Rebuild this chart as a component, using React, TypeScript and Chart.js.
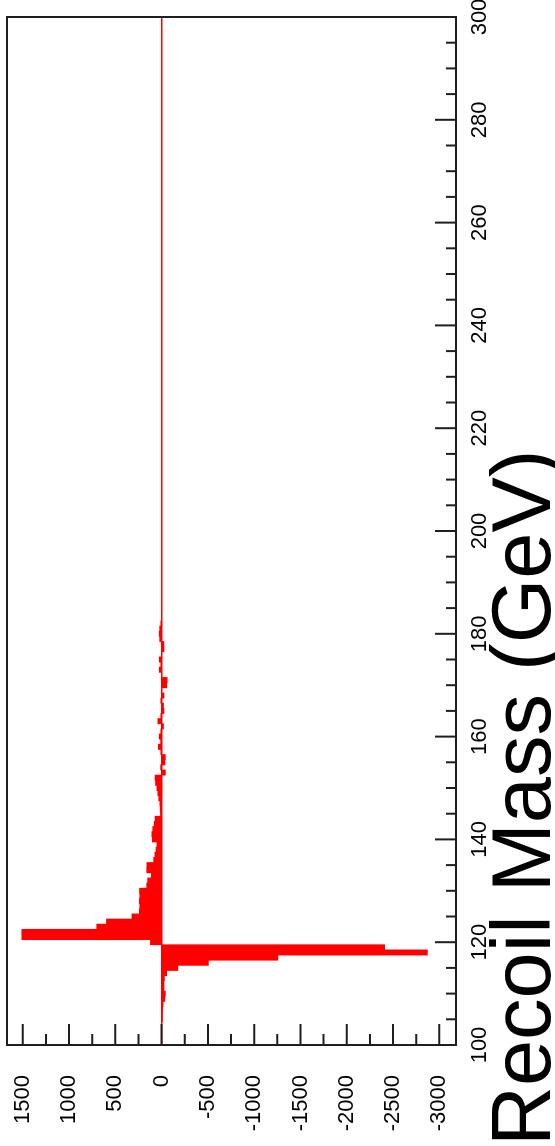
import React, { useEffect, useRef } from "react";
import { Chart, registerables } from "chart.js";

Chart.register(...registerables);

// Recoil mass histogram, 1 GeV bins (bin centres in GeV) and signed entries per bin.
const massBins = [
  104, 105, 106, 107, 108, 109, 110, 111, 112, 113, 114, 115, 116, 117, 118, 119,
  120, 121, 122, 123, 124, 125, 126, 127, 128, 129, 130, 131, 132, 133, 134, 135,
  136, 137, 138, 139, 140, 141, 142, 143, 144, 145, 146, 147, 148, 149, 150, 151,
  152, 153, 154, 155, 156, 157, 158, 159, 160, 161, 162, 163, 164, 165, 166, 167,
  168, 169, 170, 171, 172, 173, 174, 175, 176, 177, 178, 179, 180, 181, 182,
];

const entries = [
  0, -5, -8, -10, -15, -35, -40, -25, -25, -30, -55, -175, -505, -1255, -2870, -2410,
  120, 1510, 1510, 700, 595, 320, 240, 235, 240, 235, 238, 160, 150, 110, 160, 158,
  85, 72, 60, 50, 100, 105, 95, 80, 70, 12, 15, 18, 30, 40, 50, 65,
  70, -40, 10, -35, -40, 5, 35, 10, 25, 8, -20, 40, 5, -25, -20, 5,
  -25, 0, -55, -60, 0, 25, 5, 25, 0, -25, -25, 20, 25, 20, 5,
];

// Labelled ticks on both axes
const massTickLabels = [100, 120, 140, 160, 180, 200, 220, 240, 260, 280, 300];
const entryTickLabels = [1500, 1000, 500, 0, -500, -1000, -1500, -2000, -2500, -3000];

const axisTitle = "Recoil Mass (GeV)";

// Axis ranges and minor tick spacing
const massRange = [100, 300];
const entryRange = [-3180, 1670];
const massMinorStep = 5;
const entryMinorStep = 250;

const FONT = "'Liberation Sans', Arial, Helvetica, sans-serif";
const W = 1146;
const H = 555;

// Draws the closed frame and inward-pointing tick marks on both axes.
const frameTicks = {
  id: "frameTicks",
  afterDraw(chart: any) {
    const { ctx, chartArea: a, scales } = chart;
    const xs = scales.x;
    const ys = scales.y;
    ctx.save();
    ctx.strokeStyle = "#1e1e1e";
    ctx.lineWidth = 2;
    ctx.lineCap = "butt";
    ctx.beginPath();
    for (let m = massRange[0]; m <= massRange[1]; m += massMinorStep) {
      const len = massTickLabels.includes(m) ? 21 : 10;
      const px = xs.getPixelForValue(m);
      ctx.moveTo(px, a.bottom);
      ctx.lineTo(px, a.bottom - len);
    }
    const firstEntry = Math.ceil(entryRange[0] / entryMinorStep) * entryMinorStep;
    for (let v = firstEntry; v <= entryRange[1]; v += entryMinorStep) {
      const len = entryTickLabels.includes(v) ? 21 : 11;
      const py = ys.getPixelForValue(v);
      ctx.moveTo(a.left, py);
      ctx.lineTo(a.left + len, py);
    }
    ctx.stroke();
    ctx.strokeRect(a.left, a.top, a.right - a.left, a.bottom - a.top);
    ctx.restore();
  },
};

function zeroPadding(scale: any) {
  scale.paddingLeft = 0;
  scale.paddingRight = 0;
  scale.paddingTop = 0;
  scale.paddingBottom = 0;
}

export default function App() {
  const canvasRef = useRef<HTMLCanvasElement | null>(null);

  useEffect(() => {
    const canvas = canvasRef.current;
    if (!canvas) return;
    const points = massBins.map((m, i) => ({ x: m, y: entries[i] }));
    const chart = new Chart(canvas, {
      type: "bar",
      data: {
        datasets: [
          {
            data: points,
            backgroundColor: "#ff0000",
            borderWidth: 0,
            barPercentage: 1,
            categoryPercentage: 1,
            inflateAmount: 0.4,
          },
        ],
      },
      options: {
        responsive: false,
        animation: false,
        events: [],
        devicePixelRatio: 1,
        layout: { padding: { left: 0, top: 7, right: 17, bottom: 0 } },
        plugins: {
          legend: { display: false },
          tooltip: { enabled: false },
          title: {
            display: true,
            text: axisTitle,
            position: "bottom",
            align: "start",
            color: "#000",
            padding: 0,
            font: { family: FONT, size: 83, weight: "normal", lineHeight: 56 / 83 },
          },
        },
        scales: {
          x: {
            type: "linear",
            min: massRange[0],
            max: massRange[1],
            offset: false,
            border: { display: false },
            grid: { display: false, drawTicks: false },
            afterBuildTicks(scale: any) {
              scale.ticks = massTickLabels.map((value) => ({ value }));
            },
            ticks: {
              autoSkip: false,
              maxRotation: 0,
              minRotation: 0,
              padding: 11,
              color: "#000",
              font: { family: FONT, size: 22 },
              callback: (v: any) => String(v),
            },
            afterFit(scale: any) {
              scale.height = 43;
              zeroPadding(scale);
            },
          },
          y: {
            type: "linear",
            min: entryRange[0],
            max: entryRange[1],
            border: { display: false },
            grid: {
              drawTicks: false,
              lineWidth: 1.5,
              color: (c: any) => (c.tick && c.tick.value === 0 ? "#ff0000" : "rgba(0,0,0,0)"),
            },
            afterBuildTicks(scale: any) {
              scale.ticks = entryTickLabels.map((value) => ({ value }));
            },
            ticks: {
              autoSkip: false,
              padding: 30,
              color: "#000",
              font: { family: FONT, size: 22 },
              callback: (v: any) => String(v),
            },
            afterFit(scale: any) {
              scale.width = 101;
              zeroPadding(scale);
            },
          },
        },
      },
      plugins: [frameTicks],
    });
    return () => chart.destroy();
  }, []);

  return (
    <div
      style={{
        position: "fixed",
        left: 0,
        top: 0,
        width: H,
        height: W,
        overflow: "hidden",
        background: "#fff",
      }}
    >
      <div
        style={{
          position: "absolute",
          left: 0,
          top: 0,
          width: W,
          height: H,
          transformOrigin: "0 0",
          transform: `translateY(${W}px) rotate(-90deg)`,
        }}
      >
        <canvas ref={canvasRef} width={W} height={H} style={{ width: W, height: H, display: "block" }} />
      </div>
    </div>
  );
}
